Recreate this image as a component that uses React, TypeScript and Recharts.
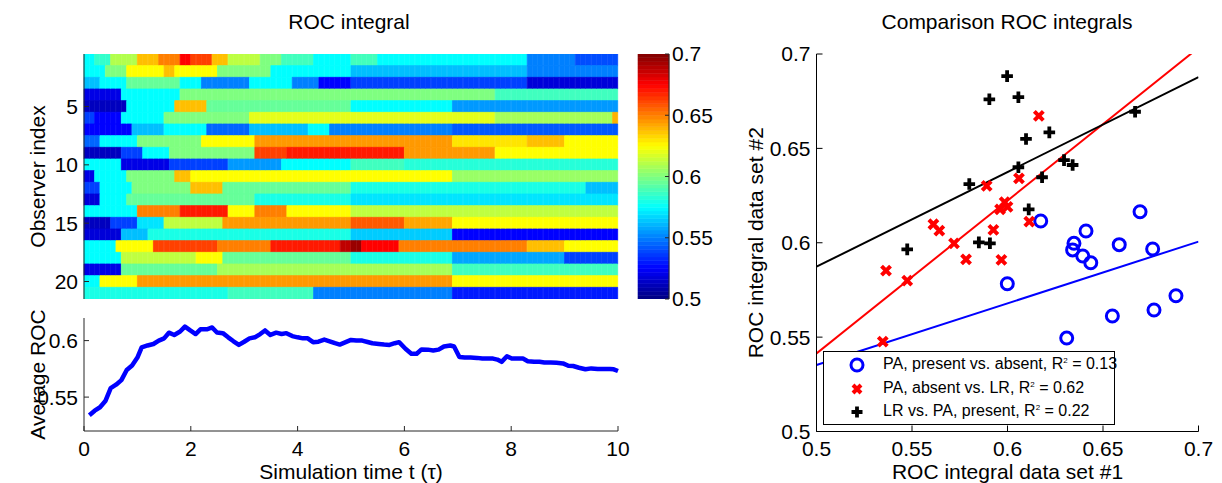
import React from 'react';
import {
  BarChart, Bar, Cell, XAxis, YAxis, LineChart, Line,
  ScatterChart, Scatter, ReferenceLine, Legend,
} from 'recharts';

const FONT = '"Liberation Sans", Arial, Helvetica, sans-serif';
const AXIS = '#262626';
const FS = 21;
const TICK = { fill: '#000', fontSize: FS, fontFamily: FONT };

// ---------- Heatmap: ROC integral per observer (21 rows) x 100 time bins ----------
const heatColumnCount = 100;
// each row: runs of [startColumn, ROC value]
const heatRuns: number[][][] = [
  [[0, 0.575], [2, 0.585], [5, 0.61], [10, 0.6375], [14, 0.65], [18, 0.675], [20, 0.6625], [24, 0.6375], [27, 0.612], [33, 0.6], [37, 0.588], [43, 0.575], [50, 0.588], [55, 0.575], [83, 0.55], [92, 0.54]],
  [[0, 0.575], [4, 0.6], [8, 0.625], [15, 0.6375], [17, 0.625], [25, 0.6], [35, 0.575], [50, 0.5625], [83, 0.55]],
  [[0, 0.5625], [3, 0.575], [8, 0.595], [18, 0.575], [22, 0.55], [31, 0.575], [39, 0.55], [44, 0.525], [50, 0.5375], [83, 0.5175]],
  [[0, 0.52], [7, 0.575], [18, 0.6], [77, 0.5875]],
  [[0, 0.5125], [8, 0.575], [17, 0.6375], [23, 0.595], [50, 0.575], [69, 0.555]],
  [[0, 0.5375], [2, 0.525], [7, 0.575], [15, 0.6], [31, 0.62], [77, 0.6075], [99, 0.64]],
  [[0, 0.525], [9, 0.5625], [15, 0.575], [23, 0.545], [31, 0.5625], [42, 0.575], [46, 0.55], [69, 0.5425]],
  [[0, 0.545], [3, 0.575], [10, 0.6], [22, 0.625], [32, 0.645], [69, 0.63], [83, 0.6375], [90, 0.625]],
  [[0, 0.5125], [7, 0.5375], [11, 0.575], [16, 0.6], [32, 0.6625], [38, 0.67], [60, 0.645], [77, 0.625]],
  [[0, 0.575], [7, 0.52], [16, 0.5375], [27, 0.555], [37, 0.575], [50, 0.5875], [60, 0.5825]],
  [[0, 0.52], [2, 0.575], [8, 0.6], [17, 0.6375], [20, 0.625], [69, 0.605]],
  [[0, 0.5375], [3, 0.575], [9, 0.6], [20, 0.6375], [26, 0.595], [50, 0.58], [94, 0.5625]],
  [[0, 0.5175], [3, 0.575], [8, 0.595], [32, 0.58], [50, 0.57]],
  [[0, 0.575], [10, 0.65], [18, 0.67], [27, 0.625], [32, 0.65], [38, 0.625], [50, 0.6125]],
  [[0, 0.5125], [5, 0.5375], [10, 0.57], [15, 0.6125], [26, 0.645], [50, 0.6575], [60, 0.6425], [69, 0.625]],
  [[0, 0.5175], [7, 0.5625], [12, 0.58], [50, 0.565], [69, 0.525]],
  [[0, 0.575], [6, 0.625], [13, 0.6625], [25, 0.65], [35, 0.67], [48, 0.6875], [50, 0.695], [52, 0.675], [59, 0.65], [83, 0.6375], [90, 0.625]],
  [[0, 0.575], [7, 0.6125], [21, 0.625], [26, 0.595], [50, 0.58], [69, 0.5575], [90, 0.5375]],
  [[0, 0.52], [7, 0.595], [25, 0.6075], [69, 0.5875]],
  [[0, 0.575], [3, 0.625], [10, 0.645], [69, 0.625]],
  [[0, 0.58], [27, 0.5875], [43, 0.55], [50, 0.55], [69, 0.53]],
];
const observerTicks = [5, 10, 15, 20];

// ---------- Colorbar ----------
const colorbarTicks = [0.5, 0.55, 0.6, 0.65, 0.7];
const colorbarSteps = 64;

// ---------- Average ROC over time ----------
const avgTimes = [0.1, 0.2, 0.3, 0.4, 0.5, 0.6, 0.7, 0.8, 0.9, 1.0, 1.08, 1.19, 1.3, 1.4, 1.5, 1.59, 1.69, 1.8, 1.89, 1.99, 2.09, 2.18, 2.3, 2.4, 2.49, 2.6, 2.7, 2.8, 2.9, 3.0, 3.1, 3.2, 3.3, 3.39, 3.49, 3.6, 3.7, 3.79, 3.9, 4.0, 4.1, 4.19, 4.29, 4.39, 4.5, 4.6, 4.7, 4.79, 4.9, 5.0, 5.1, 5.21, 5.31, 5.4, 5.52, 5.62, 5.72, 5.82, 5.9, 6.02, 6.13, 6.23, 6.32, 6.44, 6.54, 6.64, 6.74, 6.86, 6.93, 7.03, 7.13, 7.24, 7.36, 7.46, 7.55, 7.66, 7.74, 7.82, 7.92, 8.01, 8.1, 8.22, 8.31, 8.43, 8.53, 8.62, 8.74, 8.85, 8.97, 9.07, 9.16, 9.27, 9.39, 9.5, 9.62, 9.73, 9.85, 9.92, 10.0];
const avgRoc = [0.534, 0.538, 0.541, 0.5465, 0.558, 0.561, 0.565, 0.574, 0.578, 0.585, 0.594, 0.5957, 0.597, 0.6, 0.602, 0.607, 0.605, 0.608, 0.6124, 0.609, 0.6058, 0.61, 0.61, 0.6116, 0.6072, 0.6066, 0.6029, 0.5994, 0.5962, 0.599, 0.602, 0.6029, 0.6058, 0.609, 0.605, 0.607, 0.6058, 0.6066, 0.604, 0.6029, 0.602, 0.602, 0.5986, 0.599, 0.6009, 0.5994, 0.5977, 0.5965, 0.5986, 0.6006, 0.6, 0.6, 0.5988, 0.5977, 0.597, 0.5965, 0.5962, 0.5977, 0.5986, 0.5928, 0.5884, 0.5884, 0.5922, 0.592, 0.5913, 0.592, 0.5948, 0.5957, 0.5948, 0.5855, 0.585, 0.585, 0.5847, 0.5841, 0.5841, 0.5841, 0.5832, 0.5812, 0.5861, 0.5841, 0.5841, 0.5841, 0.5818, 0.5812, 0.5812, 0.5806, 0.5806, 0.5803, 0.5798, 0.5777, 0.5775, 0.576, 0.5746, 0.5754, 0.5749, 0.5749, 0.5749, 0.5746, 0.5731];
const timeTicks = [0, 2, 4, 6, 8, 10];
const avgTicks = [0.55, 0.6];

// ---------- Comparison scatter ----------
const paPresAbsX = [0.6174, 0.6411, 0.6348, 0.6341, 0.6394, 0.6436, 0.6585, 0.6694, 0.676, 0.5999, 0.6882, 0.6767, 0.6549, 0.631];
const paPresAbsY = [0.6115, 0.6062, 0.5997, 0.5962, 0.593, 0.5894, 0.599, 0.6164, 0.5967, 0.5783, 0.5719, 0.5644, 0.5612, 0.5495];
const paAbsLrX = [0.5364, 0.5475, 0.5347, 0.5612, 0.5643, 0.572, 0.5783, 0.5891, 0.5926, 0.5968, 0.5961, 0.5985, 0.6, 0.6164, 0.606, 0.6114];
const paAbsLrY = [0.5852, 0.5799, 0.5476, 0.6098, 0.6064, 0.5997, 0.5912, 0.6301, 0.6068, 0.5909, 0.6177, 0.6215, 0.619, 0.6672, 0.6341, 0.6112];
const lrPaPresX = [0.5998, 0.5905, 0.6057, 0.58, 0.6057, 0.585, 0.5908, 0.5475, 0.6097, 0.6219, 0.6296, 0.6341, 0.6181, 0.6111, 0.6668];
const lrPaPresY = [0.6883, 0.676, 0.6771, 0.6311, 0.64, 0.6002, 0.5997, 0.5965, 0.655, 0.6585, 0.6438, 0.6412, 0.6347, 0.6177, 0.6694];
const fitBlue = [[0.5, 0.5352], [0.7, 0.6006]];
const fitRed = [[0.5, 0.5414], [0.7, 0.7033]];
const fitBlack = [[0.5, 0.5873], [0.7, 0.6877]];
const scatterTicks = [0.5, 0.55, 0.6, 0.65, 0.7];
const legendLabels = ['PA, present vs. absent', 'PA, absent vs. LR', 'LR vs. PA, present'];
const legendR2 = ['0.13', '0.62', '0.22'];

// ---------- helpers ----------
const clamp = (v: number) => Math.max(0, Math.min(1, v));
function jet(v: number): string {
  const f = clamp((v - 0.5) / 0.2);
  const r = clamp(1.5 - Math.abs(4 * f - 3));
  const g = clamp(1.5 - Math.abs(4 * f - 2));
  const b = clamp(1.5 - Math.abs(4 * f - 1));
  const h = (x: number) => Math.round(x * 255).toString(16).padStart(2, '0');
  return `#${h(r)}${h(g)}${h(b)}`;
}

const heatValues: number[][] = heatRuns.map((runs) =>
  Array.from({ length: heatColumnCount }, (_, c) => {
    let v = runs[0][1];
    for (const [s, val] of runs) if (c >= s) v = val;
    return v;
  })
);
const heatData = Array.from({ length: heatColumnCount }, (_, c) => {
  const row: Record<string, number> = { col: c, off: 0.5 };
  heatValues.forEach((_, r) => { row[`r${r + 1}`] = 1; });
  return row;
});

const cbStep = 0.2 / colorbarSteps;
const cbRow: Record<string, number | string> = { name: 'cb', base: 0.5 };
for (let i = 0; i < colorbarSteps; i++) cbRow[`s${i}`] = cbStep;
const cbData = [cbRow];
const cbColors = Array.from({ length: colorbarSteps }, (_, i) => jet(0.5 + (i + 0.5) * cbStep));

const avgData = avgTimes.map((t, i) => ({ t, v: avgRoc[i] }));
const toPts = (xs: number[], ys: number[]) => xs.map((x, i) => ({ x, y: ys[i] }));
const blueData = toPts(paPresAbsX, paPresAbsY);
const redData = toPts(paAbsLrX, paAbsLrY);
const blackData = toPts(lrPaPresX, lrPaPresY);
const seg = (s: number[][]) => [{ x: s[0][0], y: s[0][1] }, { x: s[1][0], y: s[1][1] }];

// ---------- markers ----------
const circleAt = (cx: number, cy: number) => (
  <circle cx={cx} cy={cy} r={6} fill="none" stroke="#0000ff" strokeWidth={3} />
);
const crossAt = (cx: number, cy: number, s = 4.5) => (
  <path d={`M${cx - s},${cy - s}L${cx + s},${cy + s}M${cx - s},${cy + s}L${cx + s},${cy - s}`} stroke="#ff0000" strokeWidth={4} fill="none" />
);
const plusAt = (cx: number, cy: number, s = 5.8) => (
  <path d={`M${cx - s},${cy}H${cx + s}M${cx},${cy - s}V${cy + s}`} stroke="#000" strokeWidth={3.8} fill="none" />
);
const CircleShape = (p: any) => (p.cx == null ? null : circleAt(p.cx, p.cy));
const CrossShape = (p: any) => (p.cx == null ? null : crossAt(p.cx, p.cy));
const PlusShape = (p: any) => (p.cx == null ? null : plusAt(p.cx, p.cy));

const legendRowCenters = [13, 37, 60];
const LegendBox = () => (
  <div style={{ width: 290, height: 72, border: '1px solid #000', background: '#fff', fontFamily: FONT, fontSize: 16, color: '#000', position: 'relative', boxSizing: 'content-box' }}>
    {legendLabels.map((lab, i) => (
      <div key={i} style={{ position: 'absolute', left: 0, top: legendRowCenters[i] - 10, height: 20, display: 'flex', alignItems: 'center' }}>
        <svg width={59} height={20} style={{ display: 'block', flex: 'none' }}>
          {i === 0 ? circleAt(33, 10) : i === 1 ? crossAt(33, 10, 4) : plusAt(33, 10, 5.5)}
        </svg>
        <span style={{ whiteSpace: 'nowrap', lineHeight: '20px' }}>
          {lab}, R<span style={{ fontSize: 8, position: 'relative', top: -6 }}>2</span> = {legendR2[i]}
        </span>
      </div>
    ))}
  </div>
);

export default function App() {
  return (
    <div style={{ position: 'absolute', left: 0, top: 0, width: 1222, height: 483, background: '#fff', fontFamily: FONT }}>
      {/* Heatmap */}
      <div style={{ position: 'absolute', left: 0, top: 0 }}>
        <BarChart width={640} height={310} data={heatData} margin={{ top: 54, right: 22, bottom: 11, left: 0 }} barCategoryGap={0} barGap={0}>
          <XAxis dataKey="col" tick={false} tickLine={false} height={0} axisLine={{ stroke: AXIS }} />
          <XAxis xAxisId="top" orientation="top" dataKey="col" tick={false} tickLine={false} height={0} axisLine={{ stroke: AXIS }} />
          <YAxis type="number" domain={[0.5, 21.5]} reversed allowDataOverflow ticks={observerTicks} interval={0}
            width={84} tick={TICK} tickSize={-5} tickMargin={11} axisLine={{ stroke: AXIS }} tickLine={{ stroke: AXIS }}
            label={{ value: 'Observer index', angle: -90, position: 'insideLeft', offset: 37.5, fill: '#000', fontSize: FS, fontFamily: FONT, style: { textAnchor: 'middle' } }} />
          <YAxis yAxisId="r" orientation="right" type="number" domain={[0.5, 21.5]} reversed allowDataOverflow ticks={observerTicks} interval={0}
            width={0} tick={false} tickSize={-5} axisLine={{ stroke: AXIS }} tickLine={{ stroke: AXIS }} />
          <Bar dataKey="off" stackId="h" fill="none" isAnimationActive={false} />
          {heatValues.map((rowVals, r) => (
            <Bar key={r} dataKey={`r${r + 1}`} stackId="h" isAnimationActive={false}>
              {rowVals.map((v, c) => (
                <Cell key={c} fill={jet(v)} stroke={jet(v)} strokeWidth={0.8} />
              ))}
            </Bar>
          ))}
        </BarChart>
      </div>

      {/* Colorbar */}
      <div style={{ position: 'absolute', left: 600, top: 0 }}>
        <BarChart width={140} height={310} data={cbData} margin={{ top: 54, right: 11, bottom: 11, left: 38 }} barCategoryGap={0} barGap={0}>
          <XAxis dataKey="name" hide />
          <YAxis yAxisId="l" type="number" domain={[0.5, 0.7]} allowDataOverflow ticks={colorbarTicks} interval={0}
            width={0} tick={false} tickSize={-4} axisLine={{ stroke: AXIS }} tickLine={{ stroke: AXIS }} />
          <YAxis orientation="right" type="number" domain={[0.5, 0.7]} allowDataOverflow ticks={colorbarTicks} interval={0}
            width={60} tick={TICK} tickSize={-4} tickMargin={7} axisLine={{ stroke: AXIS }} tickLine={{ stroke: AXIS }} />
          <Bar dataKey="base" stackId="c" yAxisId="l" fill="none" isAnimationActive={false} />
          {cbColors.map((col, i) => (
            <Bar key={i} dataKey={`s${i}`} stackId="c" yAxisId="l" fill={col} stroke={col} strokeWidth={0.6} isAnimationActive={false} />
          ))}
        </BarChart>
      </div>

      {/* Average ROC line */}
      <div style={{ position: 'absolute', left: 0, top: 300 }}>
        <LineChart width={640} height={183} data={avgData} margin={{ top: 18, right: 22, bottom: 0, left: 0 }}>
          <XAxis dataKey="t" type="number" domain={[0, 10]} ticks={timeTicks} interval={0} height={52}
            tick={TICK} tickSize={-5} tickMargin={14.6} axisLine={{ stroke: AXIS }} tickLine={{ stroke: AXIS }}
            label={{ value: 'Simulation time t (τ)', position: 'insideBottom', offset: 4.5, fill: '#000', fontSize: FS, fontFamily: FONT }} />
          <XAxis xAxisId="top" orientation="top" dataKey="t" type="number" domain={[0, 10]} ticks={timeTicks} interval={0} height={0}
            tick={false} tickSize={-5} axisLine={{ stroke: AXIS }} tickLine={{ stroke: AXIS }} />
          <YAxis type="number" domain={[0.52, 0.62]} ticks={avgTicks} interval={0} width={84} allowDataOverflow
            tick={TICK} tickSize={-5} tickMargin={11} axisLine={{ stroke: AXIS }} tickLine={{ stroke: AXIS }}
            label={{ value: 'Average ROC', angle: -90, position: 'insideLeft', offset: 37.5, fill: '#000', fontSize: FS, fontFamily: FONT, style: { textAnchor: 'middle' } }} />
          <YAxis yAxisId="r" orientation="right" type="number" domain={[0.52, 0.62]} ticks={avgTicks} interval={0} width={0} allowDataOverflow
            tick={false} tickSize={-5} axisLine={{ stroke: AXIS }} tickLine={{ stroke: AXIS }} />
          <Line type="linear" dataKey="v" stroke="#0000ff" strokeWidth={4.5} dot={false} strokeLinejoin="round" isAnimationActive={false} />
        </LineChart>
      </div>

      {/* Comparison scatter */}
      <div style={{ position: 'absolute', left: 700, top: 0 }}>
        <ScatterChart width={522} height={483} margin={{ top: 54, right: 23.5, bottom: 1.5, left: 0 }}>
          <XAxis dataKey="x" type="number" domain={[0.5, 0.7]} ticks={scatterTicks} interval={0} height={50} allowDataOverflow
            tick={TICK} tickSize={-6} tickMargin={15.1} axisLine={{ stroke: '#000' }} tickLine={{ stroke: '#000' }}
            label={{ value: 'ROC integral data set #1', position: 'insideBottom', offset: 3, fill: '#000', fontSize: FS, fontFamily: FONT }} />
          <XAxis xAxisId="top" orientation="top" dataKey="x" type="number" domain={[0.5, 0.7]} ticks={scatterTicks} interval={0} height={0} allowDataOverflow
            tick={false} tickSize={-6} axisLine={{ stroke: '#000' }} tickLine={{ stroke: '#000' }} />
          <YAxis dataKey="y" type="number" domain={[0.5, 0.7]} ticks={scatterTicks} interval={0} width={116.5} allowDataOverflow
            tick={TICK} tickSize={-6} tickMargin={12} axisLine={{ stroke: '#000' }} tickLine={{ stroke: '#000' }}
            label={{ value: 'ROC integral data set #2', angle: -90, position: 'insideLeft', offset: 56, fill: '#000', fontSize: FS, fontFamily: FONT, style: { textAnchor: 'middle' } }} />
          <YAxis yAxisId="r" orientation="right" dataKey="y" type="number" domain={[0.5, 0.7]} ticks={scatterTicks} interval={0} width={0} allowDataOverflow
            tick={false} tickSize={-6} axisLine={{ stroke: '#000' }} tickLine={{ stroke: '#000' }} />
          <ReferenceLine segment={seg(fitBlue)} stroke="#0000ff" strokeWidth={2} ifOverflow="hidden" />
          <ReferenceLine segment={seg(fitRed)} stroke="#ff0000" strokeWidth={2} ifOverflow="hidden" />
          <ReferenceLine segment={seg(fitBlack)} stroke="#000" strokeWidth={2} ifOverflow="hidden" />
          <Scatter name="PA, present vs. absent" data={blueData} shape={CircleShape} isAnimationActive={false} />
          <Scatter name="PA, absent vs. LR" data={redData} shape={CrossShape} isAnimationActive={false} />
          <Scatter name="LR vs. PA, present" data={blackData} shape={PlusShape} isAnimationActive={false} />
          <Legend layout="vertical" align="center" verticalAlign="middle" content={() => <LegendBox />}
            wrapperStyle={{ left: 123, top: 351, width: 'auto', height: 'auto' }} />
        </ScatterChart>
      </div>

      {/* Titles */}
      <svg width={1222} height={483} style={{ position: 'absolute', left: 0, top: 0, pointerEvents: 'none' }}>
        <text x={349} y={29} textAnchor="middle" fontSize={FS} fontFamily={FONT} fill="#000">ROC integral</text>
        <text x={1007} y={29} textAnchor="middle" fontSize={FS} fontFamily={FONT} fill="#000">Comparison ROC integrals</text>
      </svg>
    </div>
  );
}
